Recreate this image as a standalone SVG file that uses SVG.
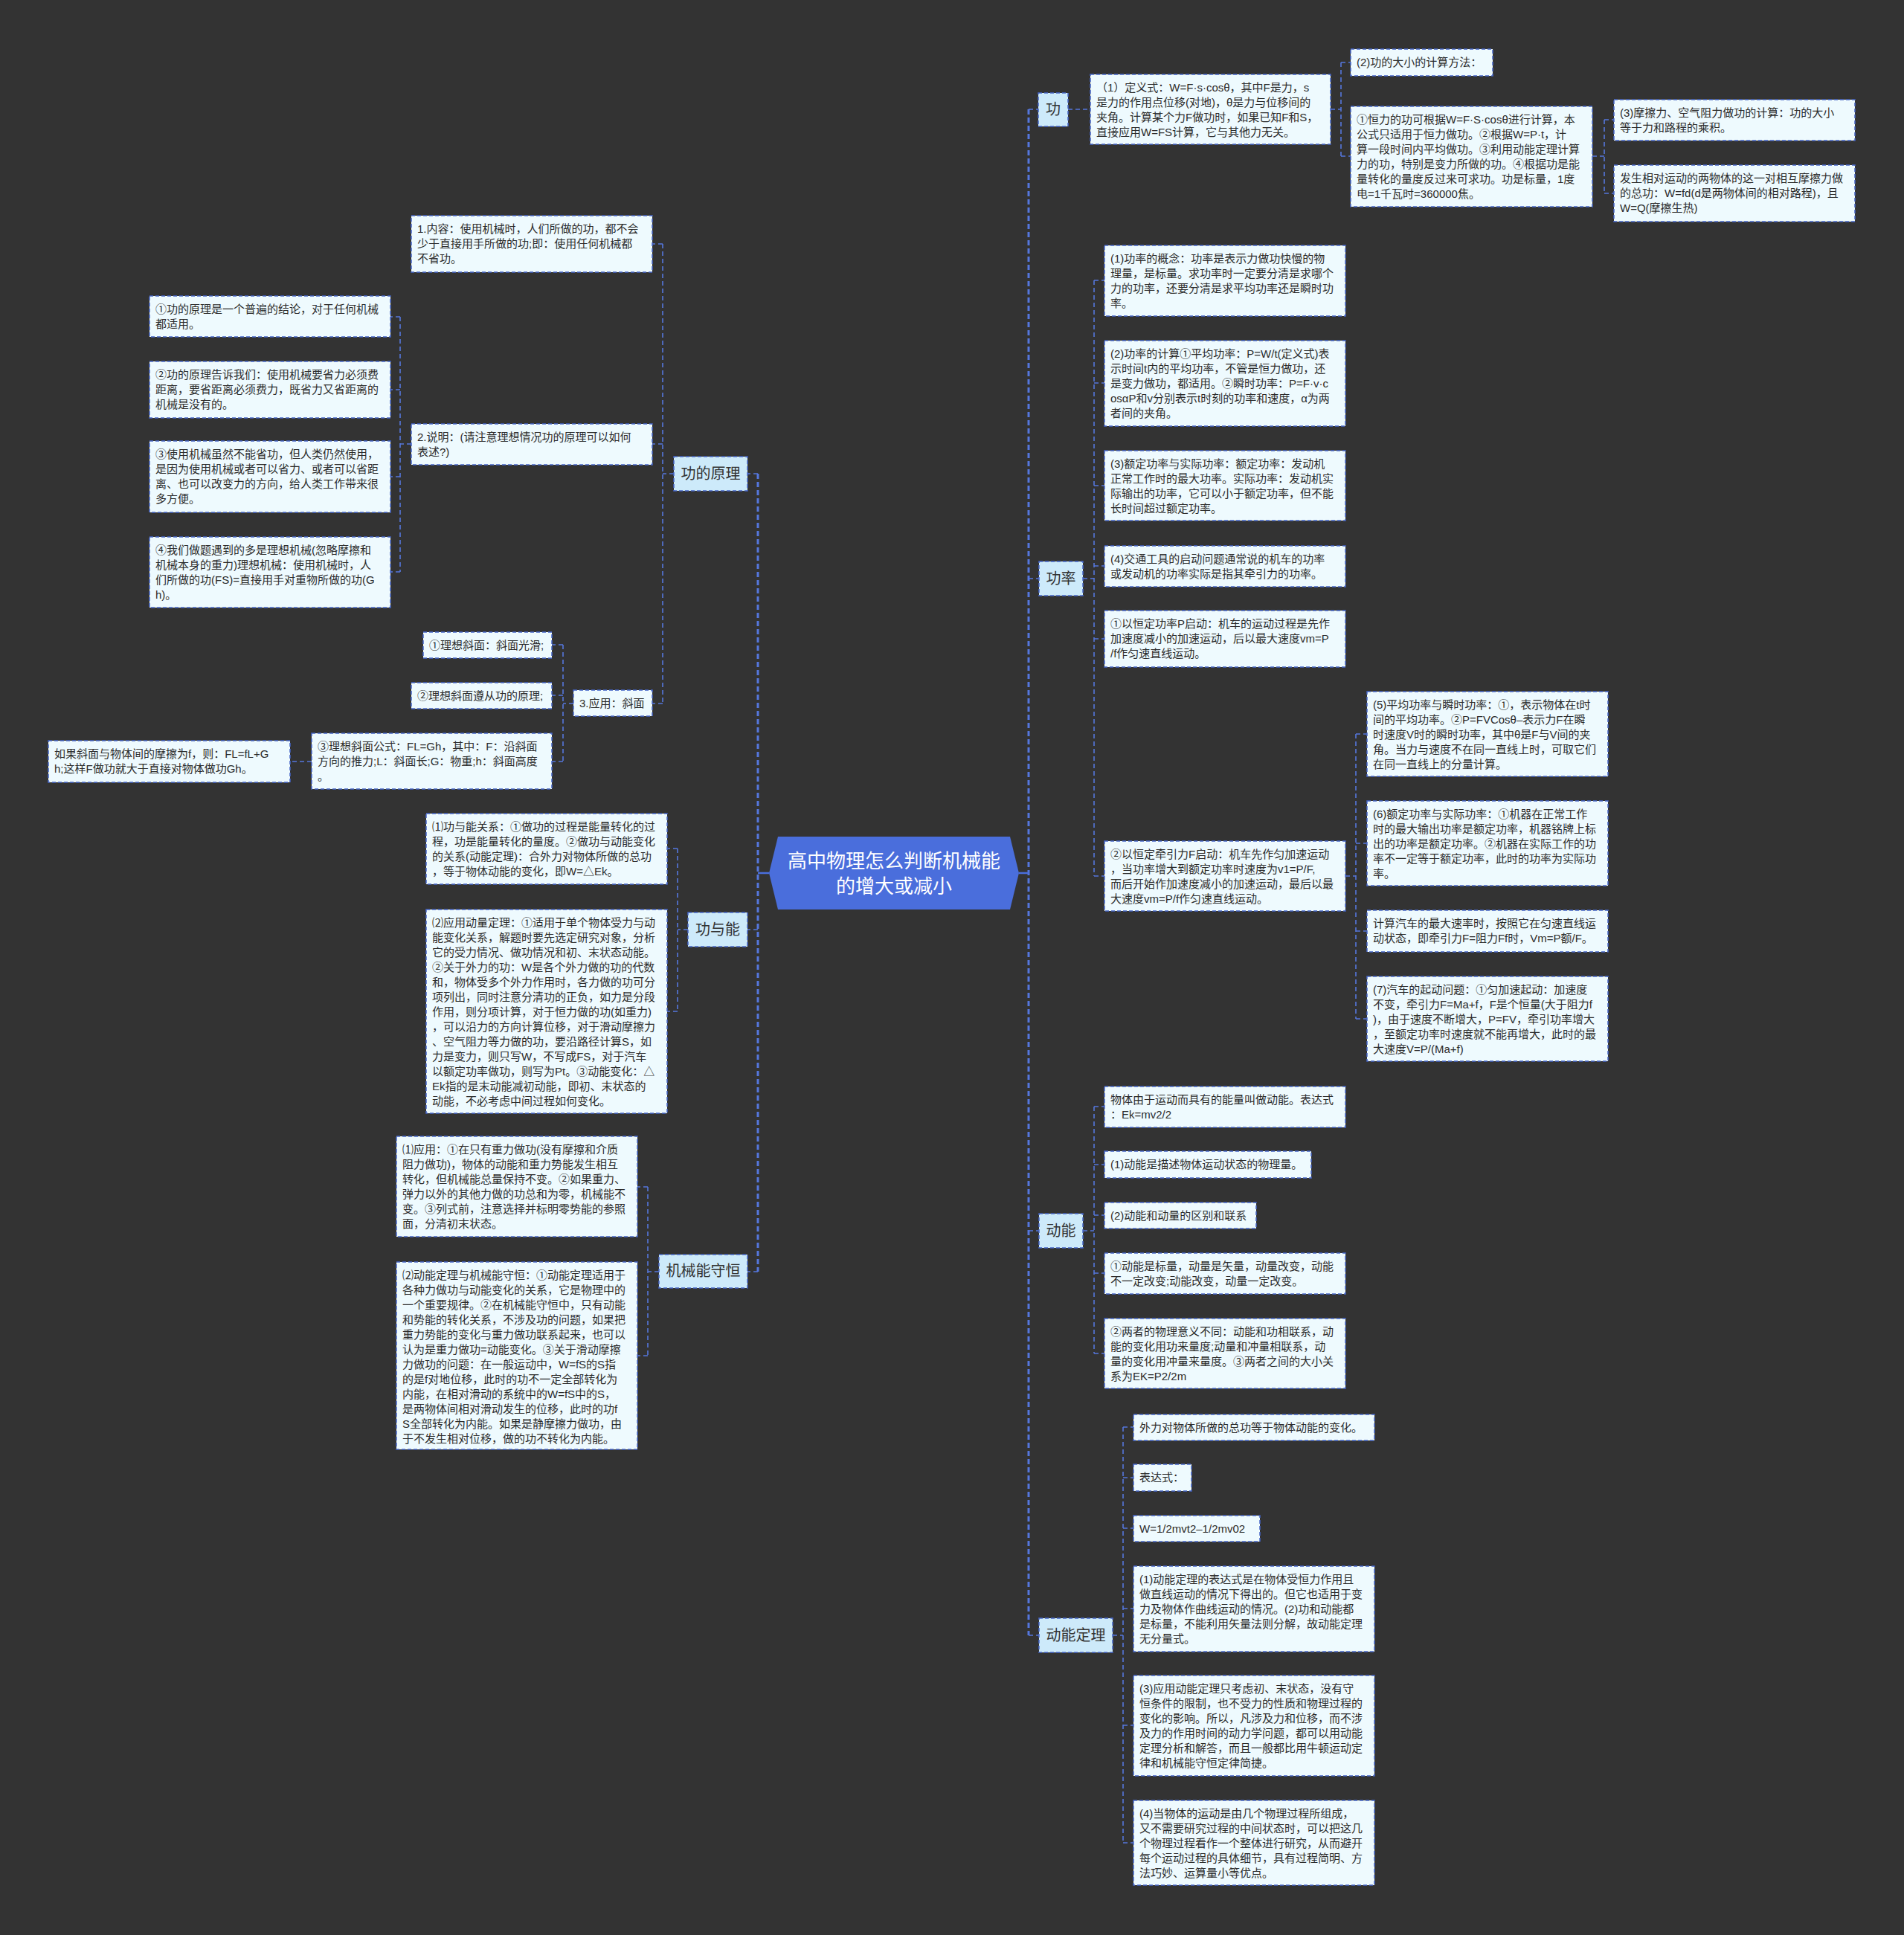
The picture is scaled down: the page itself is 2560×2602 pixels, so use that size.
<svg xmlns="http://www.w3.org/2000/svg" width="2560" height="2602" viewBox="0 0 2560 2602">
<style>
.leaf{fill:#eefafe;stroke:#4566c8;stroke-width:1.5;stroke-dasharray:5 3}
.l1{fill:#cdeafa;stroke:#4566c8;stroke-width:1.5;stroke-dasharray:5 3}
.lt{font-family:"Liberation Sans","Noto Sans CJK SC",sans-serif;font-size:15px;fill:#2b2b2b}
.l1t{font-family:"Noto Sans CJK SC","Noto Sans",sans-serif;font-size:20px;fill:#333;text-anchor:middle}
.ct{font-family:"Noto Sans CJK SC","Noto Sans",sans-serif;font-size:26px;fill:#fff;text-anchor:middle}
.c{fill:none;stroke:#5577dd;stroke-width:1.6;stroke-dasharray:6 4}
.tr{fill:none;stroke:#5577dd;stroke-width:3;stroke-dasharray:7 4}
.cs{fill:none;stroke:#4a6edc;stroke-width:2.5}
</style>
<rect width="2560" height="2602" fill="#333333"/>
<g id="connectors">
<path class="tr" d="M1383 147 V2199 M1019 637 V1710"/>
<path class="cs" d="M1370 1174 H1383 M1034 1174 H1019"/>
<path class="c" d="M1383 147 H1396 M1383 778 H1397 M1383 1655 H1397 M1383 2199 H1397 M1019 637 H1005 M1019 1250 H1005 M1019 1710 H1005"/>
<path class="c" d="M1436 147 H1466 M1789 147 H1803 M1803 84 V210 M1803 84 H1816 M1803 210 H1816 M2141 210 H2157 M2157 161 V260 M2157 161 H2170 M2157 260 H2170"/>
<path class="c" d="M1456 778 H1471 M1471 377 V1178 M1471 377 H1485 M1471 515 H1485 M1471 653 H1485 M1471 761 H1485 M1471 859 H1485 M1471 1178 H1485 M1809 1178 H1823 M1823 987 V1370 M1823 987 H1838 M1823 1134 H1838 M1823 1252 H1838 M1823 1370 H1838"/>
<path class="c" d="M1456 1655 H1471 M1471 1488 V1820 M1471 1488 H1485 M1471 1566 H1485 M1471 1634 H1485 M1471 1712 H1485 M1471 1820 H1485"/>
<path class="c" d="M1496 2199 H1510 M1510 1919 V2478 M1510 1919 H1524 M1510 1987 H1524 M1510 2055 H1524 M1510 2163 H1524 M1510 2320 H1524 M1510 2478 H1524"/>
<path class="c" d="M906 637 H891 M891 328 V946 M891 328 H877 M891 597 H877 M891 946 H877 M553 597 H538 M538 426 V769 M538 426 H525 M538 524 H525 M538 641 H525 M538 769 H525 M771 946 H757 M757 867 V1024 M757 867 H742 M757 935 H742 M757 1024 H742 M419 1024 H390"/>
<path class="c" d="M925 1250 H911 M911 1141 V1360 M911 1141 H897 M911 1360 H897 M886 1710 H871 M871 1596 V1823 M871 1596 H857 M871 1823 H857"/>
</g>
<g id="center">
<polygon points="1034,1174 1046,1125 1358,1125 1370,1174 1358,1223 1046,1223" fill="#4a6edc"/>
<text class="ct"><tspan x="1202" y="1167">高中物理怎么判断机械能</tspan><tspan x="1202" y="1201">的增大或减小</tspan></text>
</g>
<g id="n-gong"><rect class="l1" x="1396" y="125" width="40" height="45"/><text class="l1t" x="1416" y="154">功</text></g>
<g id="n-gong-def"><rect class="leaf" x="1466" y="100" width="323" height="94"/><text class="lt"><tspan x="1474" y="123">（1）定义式：W=F·s·cosθ，其中F是力，s</tspan><tspan x="1474" y="143">是力的作用点位移(对地)，θ是力与位移间的</tspan><tspan x="1474" y="163">夹角。计算某个力F做功时，如果已知F和S，</tspan><tspan x="1474" y="183">直接应用W=FS计算，它与其他力无关。</tspan></text></g>
<g id="n-gong-calc"><rect class="leaf" x="1816" y="66" width="191" height="36"/><text class="lt" x="1824" y="89">(2)功的大小的计算方法：</text></g>
<g id="n-gong-heng"><rect class="leaf" x="1816" y="143" width="325" height="135"/><text class="lt"><tspan x="1824" y="166">①恒力的功可根据W=F·S·cosθ进行计算，本</tspan><tspan x="1824" y="186">公式只适用于恒力做功。②根据W=P·t，计</tspan><tspan x="1824" y="206">算一段时间内平均做功。③利用动能定理计算</tspan><tspan x="1824" y="226">力的功，特别是变力所做的功。④根据功是能</tspan><tspan x="1824" y="246">量转化的量度反过来可求功。功是标量，1度</tspan><tspan x="1824" y="266">电=1千瓦时=360000焦。</tspan></text></g>
<g id="n-gong-mca"><rect class="leaf" x="2170" y="134" width="324" height="55"/><text class="lt"><tspan x="2178" y="157">(3)摩擦力、空气阻力做功的计算：功的大小</tspan><tspan x="2178" y="177">等于力和路程的乘积。</tspan></text></g>
<g id="n-gong-fs"><rect class="leaf" x="2170" y="222" width="324" height="76"/><text class="lt"><tspan x="2178" y="245">发生相对运动的两物体的这一对相互摩擦力做</tspan><tspan x="2178" y="265">的总功：W=fd(d是两物体间的相对路程)，且</tspan><tspan x="2178" y="285">W=Q(摩擦生热)</tspan></text></g>
<g id="n-gonglv"><rect class="l1" x="1397" y="755" width="59" height="46"/><text class="l1t" x="1426.5" y="785">功率</text></g>
<g id="n-p1"><rect class="leaf" x="1485" y="330" width="324" height="95"/><text class="lt"><tspan x="1493" y="353">(1)功率的概念：功率是表示力做功快慢的物</tspan><tspan x="1493" y="373">理量，是标量。求功率时一定要分清是求哪个</tspan><tspan x="1493" y="393">力的功率，还要分清是求平均功率还是瞬时功</tspan><tspan x="1493" y="413">率。</tspan></text></g>
<g id="n-p2"><rect class="leaf" x="1485" y="458" width="324" height="115"/><text class="lt"><tspan x="1493" y="481">(2)功率的计算①平均功率：P=W/t(定义式)表</tspan><tspan x="1493" y="501">示时间t内的平均功率，不管是恒力做功，还</tspan><tspan x="1493" y="521">是变力做功，都适用。②瞬时功率：P=F·v·c</tspan><tspan x="1493" y="541">osαP和v分别表示t时刻的功率和速度，α为两</tspan><tspan x="1493" y="561">者间的夹角。</tspan></text></g>
<g id="n-p3"><rect class="leaf" x="1485" y="606" width="324" height="94"/><text class="lt"><tspan x="1493" y="629">(3)额定功率与实际功率：额定功率：发动机</tspan><tspan x="1493" y="649">正常工作时的最大功率。实际功率：发动机实</tspan><tspan x="1493" y="669">际输出的功率，它可以小于额定功率，但不能</tspan><tspan x="1493" y="689">长时间超过额定功率。</tspan></text></g>
<g id="n-p4"><rect class="leaf" x="1485" y="734" width="324" height="55"/><text class="lt"><tspan x="1493" y="757">(4)交通工具的启动问题通常说的机车的功率</tspan><tspan x="1493" y="777">或发动机的功率实际是指其牵引力的功率。</tspan></text></g>
<g id="n-p5"><rect class="leaf" x="1485" y="821" width="324" height="76"/><text class="lt"><tspan x="1493" y="844">①以恒定功率P启动：机车的运动过程是先作</tspan><tspan x="1493" y="864">加速度减小的加速运动，后以最大速度vm=P</tspan><tspan x="1493" y="884">/f作匀速直线运动。</tspan></text></g>
<g id="n-p6"><rect class="leaf" x="1485" y="1131" width="324" height="94"/><text class="lt"><tspan x="1493" y="1154">②以恒定牵引力F启动：机车先作匀加速运动</tspan><tspan x="1493" y="1174">，当功率增大到额定功率时速度为v1=P/F,</tspan><tspan x="1493" y="1194">而后开始作加速度减小的加速运动，最后以最</tspan><tspan x="1493" y="1214">大速度vm=P/f作匀速直线运动。</tspan></text></g>
<g id="n-p7"><rect class="leaf" x="1838" y="930" width="324" height="114"/><text class="lt"><tspan x="1846" y="953">(5)平均功率与瞬时功率：①，表示物体在t时</tspan><tspan x="1846" y="973">间的平均功率。②P=FVCosθ–表示力F在瞬</tspan><tspan x="1846" y="993">时速度V时的瞬时功率，其中θ是F与V间的夹</tspan><tspan x="1846" y="1013">角。当力与速度不在同一直线上时，可取它们</tspan><tspan x="1846" y="1033">在同一直线上的分量计算。</tspan></text></g>
<g id="n-p8"><rect class="leaf" x="1838" y="1077" width="324" height="114"/><text class="lt"><tspan x="1846" y="1100">(6)额定功率与实际功率：①机器在正常工作</tspan><tspan x="1846" y="1120">时的最大输出功率是额定功率，机器铭牌上标</tspan><tspan x="1846" y="1140">出的功率是额定功率。②机器在实际工作的功</tspan><tspan x="1846" y="1160">率不一定等于额定功率，此时的功率为实际功</tspan><tspan x="1846" y="1180">率。</tspan></text></g>
<g id="n-p9"><rect class="leaf" x="1838" y="1224" width="324" height="56"/><text class="lt"><tspan x="1846" y="1247">计算汽车的最大速率时，按照它在匀速直线运</tspan><tspan x="1846" y="1267">动状态，即牵引力F=阻力Ff时，Vm=P额/F。</tspan></text></g>
<g id="n-p10"><rect class="leaf" x="1838" y="1313" width="324" height="114"/><text class="lt"><tspan x="1846" y="1336">(7)汽车的起动问题：①匀加速起动：加速度</tspan><tspan x="1846" y="1356">不变，牵引力F=Ma+f，F是个恒量(大于阻力f</tspan><tspan x="1846" y="1376">)，由于速度不断增大，P=FV，牵引功率增大</tspan><tspan x="1846" y="1396">，至额定功率时速度就不能再增大，此时的最</tspan><tspan x="1846" y="1416">大速度V=P/(Ma+f)</tspan></text></g>
<g id="n-dongneng"><rect class="l1" x="1397" y="1632" width="59" height="46"/><text class="l1t" x="1426.5" y="1662">动能</text></g>
<g id="n-d1"><rect class="leaf" x="1485" y="1461" width="324" height="55"/><text class="lt"><tspan x="1493" y="1484">物体由于运动而具有的能量叫做动能。表达式</tspan><tspan x="1493" y="1504">：Ek=mv2/2</tspan></text></g>
<g id="n-d2"><rect class="leaf" x="1485" y="1548" width="278" height="36"/><text class="lt" x="1493" y="1571">(1)动能是描述物体运动状态的物理量。</text></g>
<g id="n-d3"><rect class="leaf" x="1485" y="1617" width="204" height="35"/><text class="lt" x="1493" y="1640">(2)动能和动量的区别和联系</text></g>
<g id="n-d4"><rect class="leaf" x="1485" y="1685" width="324" height="55"/><text class="lt"><tspan x="1493" y="1708">①动能是标量，动量是矢量，动量改变，动能</tspan><tspan x="1493" y="1728">不一定改变;动能改变，动量一定改变。</tspan></text></g>
<g id="n-d5"><rect class="leaf" x="1485" y="1773" width="324" height="94"/><text class="lt"><tspan x="1493" y="1796">②两者的物理意义不同：动能和功相联系，动</tspan><tspan x="1493" y="1816">能的变化用功来量度;动量和冲量相联系，动</tspan><tspan x="1493" y="1836">量的变化用冲量来量度。③两者之间的大小关</tspan><tspan x="1493" y="1856">系为EK=P2/2m</tspan></text></g>
<g id="n-dndl"><rect class="l1" x="1397" y="2176" width="99" height="46"/><text class="l1t" x="1446.5" y="2206">动能定理</text></g>
<g id="n-k1"><rect class="leaf" x="1524" y="1902" width="324" height="35"/><text class="lt" x="1532" y="1925">外力对物体所做的总功等于物体动能的变化。</text></g>
<g id="n-k2"><rect class="leaf" x="1524" y="1969" width="78" height="36"/><text class="lt" x="1532" y="1992">表达式：</text></g>
<g id="n-k3"><rect class="leaf" x="1524" y="2038" width="170" height="35"/><text class="lt" x="1532" y="2061">W=1/2mvt2–1/2mv02</text></g>
<g id="n-k4"><rect class="leaf" x="1524" y="2106" width="324" height="115"/><text class="lt"><tspan x="1532" y="2129">(1)动能定理的表达式是在物体受恒力作用且</tspan><tspan x="1532" y="2149">做直线运动的情况下得出的。但它也适用于变</tspan><tspan x="1532" y="2169">力及物体作曲线运动的情况。(2)功和动能都</tspan><tspan x="1532" y="2189">是标量，不能利用矢量法则分解，故动能定理</tspan><tspan x="1532" y="2209">无分量式。</tspan></text></g>
<g id="n-k5"><rect class="leaf" x="1524" y="2253" width="324" height="135"/><text class="lt"><tspan x="1532" y="2276">(3)应用动能定理只考虑初、末状态，没有守</tspan><tspan x="1532" y="2296">恒条件的限制，也不受力的性质和物理过程的</tspan><tspan x="1532" y="2316">变化的影响。所以，凡涉及力和位移，而不涉</tspan><tspan x="1532" y="2336">及力的作用时间的动力学问题，都可以用动能</tspan><tspan x="1532" y="2356">定理分析和解答，而且一般都比用牛顿运动定</tspan><tspan x="1532" y="2376">律和机械能守恒定律简捷。</tspan></text></g>
<g id="n-k6"><rect class="leaf" x="1524" y="2421" width="324" height="114"/><text class="lt"><tspan x="1532" y="2444">(4)当物体的运动是由几个物理过程所组成，</tspan><tspan x="1532" y="2464">又不需要研究过程的中间状态时，可以把这几</tspan><tspan x="1532" y="2484">个物理过程看作一个整体进行研究，从而避开</tspan><tspan x="1532" y="2504">每个运动过程的具体细节，具有过程简明、方</tspan><tspan x="1532" y="2524">法巧妙、运算量小等优点。</tspan></text></g>
<g id="n-gdyl"><rect class="l1" x="906" y="614" width="99" height="46"/><text class="l1t" x="955.5" y="644">功的原理</text></g>
<g id="n-a1"><rect class="leaf" x="553" y="290" width="324" height="76"/><text class="lt"><tspan x="561" y="313">1.内容：使用机械时，人们所做的功，都不会</tspan><tspan x="561" y="333">少于直接用手所做的功;即：使用任何机械都</tspan><tspan x="561" y="353">不省功。</tspan></text></g>
<g id="n-a2"><rect class="leaf" x="553" y="570" width="324" height="55"/><text class="lt"><tspan x="561" y="593">2.说明：(请注意理想情况功的原理可以如何</tspan><tspan x="561" y="613">表述?)</tspan></text></g>
<g id="n-a3"><rect class="leaf" x="771" y="928" width="106" height="35"/><text class="lt" x="779" y="951">3.应用：斜面</text></g>
<g id="n-b1"><rect class="leaf" x="201" y="398" width="324" height="55"/><text class="lt"><tspan x="209" y="421">①功的原理是一个普遍的结论，对于任何机械</tspan><tspan x="209" y="441">都适用。</tspan></text></g>
<g id="n-b2"><rect class="leaf" x="201" y="486" width="324" height="76"/><text class="lt"><tspan x="209" y="509">②功的原理告诉我们：使用机械要省力必须费</tspan><tspan x="209" y="529">距离，要省距离必须费力，既省力又省距离的</tspan><tspan x="209" y="549">机械是没有的。</tspan></text></g>
<g id="n-b3"><rect class="leaf" x="201" y="593" width="324" height="96"/><text class="lt"><tspan x="209" y="616">③使用机械虽然不能省功，但人类仍然使用，</tspan><tspan x="209" y="636">是因为使用机械或者可以省力、或者可以省距</tspan><tspan x="209" y="656">离、也可以改变力的方向，给人类工作带来很</tspan><tspan x="209" y="676">多方便。</tspan></text></g>
<g id="n-b4"><rect class="leaf" x="201" y="722" width="324" height="95"/><text class="lt"><tspan x="209" y="745">④我们做题遇到的多是理想机械(忽略摩擦和</tspan><tspan x="209" y="765">机械本身的重力)理想机械：使用机械时，人</tspan><tspan x="209" y="785">们所做的功(FS)=直接用手对重物所做的功(G</tspan><tspan x="209" y="805">h)。</tspan></text></g>
<g id="n-c1"><rect class="leaf" x="569" y="850" width="173" height="35"/><text class="lt" x="577" y="873">①理想斜面：斜面光滑;</text></g>
<g id="n-c2"><rect class="leaf" x="553" y="918" width="189" height="35"/><text class="lt" x="561" y="941">②理想斜面遵从功的原理;</text></g>
<g id="n-c3"><rect class="leaf" x="419" y="986" width="323" height="75"/><text class="lt"><tspan x="427" y="1009">③理想斜面公式：FL=Gh，其中：F：沿斜面</tspan><tspan x="427" y="1029">方向的推力;L：斜面长;G：物重;h：斜面高度</tspan><tspan x="427" y="1049">。</tspan></text></g>
<g id="n-c4"><rect class="leaf" x="65" y="996" width="325" height="56"/><text class="lt"><tspan x="73" y="1019">如果斜面与物体间的摩擦为f，则：FL=fL+G</tspan><tspan x="73" y="1039">h;这样F做功就大于直接对物体做功Gh。</tspan></text></g>
<g id="n-gyn"><rect class="l1" x="925" y="1227" width="80" height="46"/><text class="l1t" x="965" y="1257">功与能</text></g>
<g id="n-e1"><rect class="leaf" x="573" y="1094" width="324" height="95"/><text class="lt"><tspan x="581" y="1117">⑴功与能关系：①做功的过程是能量转化的过</tspan><tspan x="581" y="1137">程，功是能量转化的量度。②做功与动能变化</tspan><tspan x="581" y="1157">的关系(动能定理)：合外力对物体所做的总功</tspan><tspan x="581" y="1177">，等于物体动能的变化，即W=△Ek。</tspan></text></g>
<g id="n-e2"><rect class="leaf" x="573" y="1223" width="324" height="274"/><text class="lt"><tspan x="581" y="1246">⑵应用动量定理：①适用于单个物体受力与动</tspan><tspan x="581" y="1266">能变化关系，解题时要先选定研究对象，分析</tspan><tspan x="581" y="1286">它的受力情况、做功情况和初、末状态动能。</tspan><tspan x="581" y="1306">②关于外力的功：W是各个外力做的功的代数</tspan><tspan x="581" y="1326">和，物体受多个外力作用时，各力做的功可分</tspan><tspan x="581" y="1346">项列出，同时注意分清功的正负，如力是分段</tspan><tspan x="581" y="1366">作用，则分项计算，对于恒力做的功(如重力)</tspan><tspan x="581" y="1386">，可以沿力的方向计算位移，对于滑动摩擦力</tspan><tspan x="581" y="1406">、空气阻力等力做的功，要沿路径计算S，如</tspan><tspan x="581" y="1426">力是变力，则只写W，不写成FS，对于汽车</tspan><tspan x="581" y="1446">以额定功率做功，则写为Pt。③动能变化：△</tspan><tspan x="581" y="1466">Ek指的是末动能减初动能，即初、末状态的</tspan><tspan x="581" y="1486">动能，不必考虑中间过程如何变化。</tspan></text></g>
<g id="n-jxnsh"><rect class="l1" x="886" y="1687" width="119" height="45"/><text class="l1t" x="945.5" y="1716">机械能守恒</text></g>
<g id="n-f1"><rect class="leaf" x="533" y="1528" width="324" height="135"/><text class="lt"><tspan x="541" y="1551">⑴应用：①在只有重力做功(没有摩擦和介质</tspan><tspan x="541" y="1571">阻力做功)，物体的动能和重力势能发生相互</tspan><tspan x="541" y="1591">转化，但机械能总量保持不变。②如果重力、</tspan><tspan x="541" y="1611">弹力以外的其他力做的功总和为零，机械能不</tspan><tspan x="541" y="1631">变。③列式前，注意选择并标明零势能的参照</tspan><tspan x="541" y="1651">面，分清初末状态。</tspan></text></g>
<g id="n-f2"><rect class="leaf" x="533" y="1697" width="324" height="252"/><text class="lt"><tspan x="541" y="1720">⑵动能定理与机械能守恒：①动能定理适用于</tspan><tspan x="541" y="1740">各种力做功与动能变化的关系，它是物理中的</tspan><tspan x="541" y="1760">一个重要规律。②在机械能守恒中，只有动能</tspan><tspan x="541" y="1780">和势能的转化关系，不涉及功的问题，如果把</tspan><tspan x="541" y="1800">重力势能的变化与重力做功联系起来，也可以</tspan><tspan x="541" y="1820">认为是重力做功=动能变化。③关于滑动摩擦</tspan><tspan x="541" y="1840">力做功的问题：在一般运动中，W=fS的S指</tspan><tspan x="541" y="1860">的是f对地位移，此时的功不一定全部转化为</tspan><tspan x="541" y="1880">内能，在相对滑动的系统中的W=fS中的S，</tspan><tspan x="541" y="1900">是两物体间相对滑动发生的位移，此时的功f</tspan><tspan x="541" y="1920">S全部转化为内能。如果是静摩擦力做功，由</tspan><tspan x="541" y="1940">于不发生相对位移，做的功不转化为内能。</tspan></text></g>
</svg>
